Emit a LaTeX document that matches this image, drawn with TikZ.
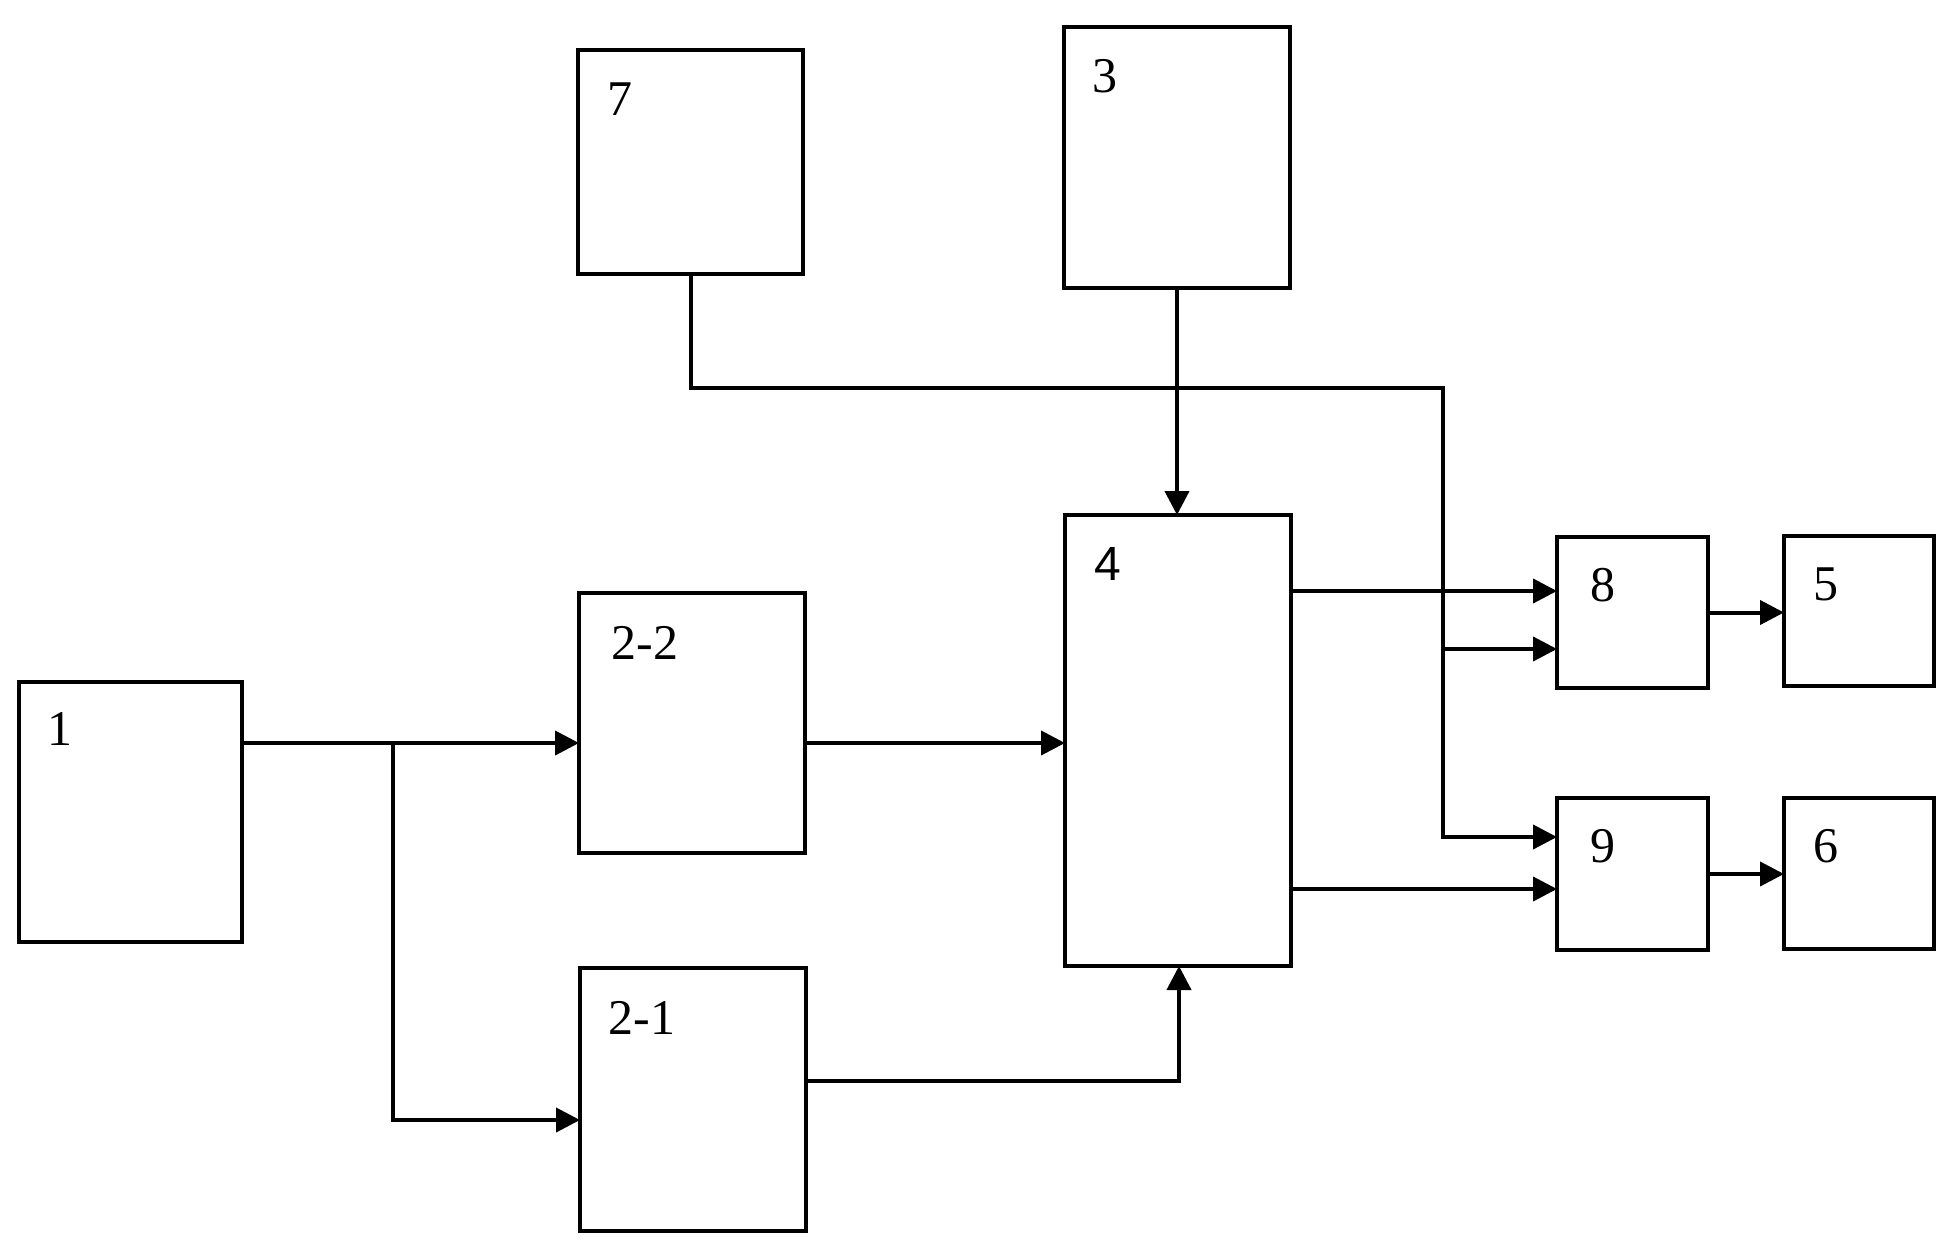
\documentclass[tikz,border=0pt]{standalone}
\usepackage{fontspec}
\setmainfont{Liberation Serif}
\newfontfamily\sansf{Liberation Sans}
\usetikzlibrary{arrows.meta}
\begin{document}
\begin{tikzpicture}[x=1pt,y=-1pt,
  box/.style={draw, line width=4pt, inner sep=0pt, outer sep=0pt, anchor=north west, line join=miter},
  lab/.style={font=\fontsize{50}{50}\selectfont, inner sep=0pt},
  conn/.style={line width=4pt, line join=miter},
  arr/.style={conn, -{Triangle[length=24pt,width=24pt]}}]
\useasboundingbox (0,0) rectangle (1948,1260);
% boxes
\node[box, minimum width=223pt, minimum height=260pt] (b1) at (19,682) {};
\node[box, minimum width=225pt, minimum height=224pt] (b7) at (578,50) {};
\node[box, minimum width=226pt, minimum height=261pt] (b3) at (1064,27) {};
\node[box, minimum width=226pt, minimum height=260pt] (b22) at (579,593) {};
\node[box, minimum width=226pt, minimum height=263pt] (b21) at (580,968) {};
\node[box, minimum width=226pt, minimum height=451pt] (b4) at (1065,515) {};
\node[box, minimum width=151pt, minimum height=151pt] (b8) at (1557,537) {};
\node[box, minimum width=150pt, minimum height=150pt] (b5) at (1784,536) {};
\node[box, minimum width=151pt, minimum height=152pt] (b9) at (1557,798) {};
\node[box, minimum width=150pt, minimum height=151pt] (b6) at (1784,798) {};
% labels
\node[lab] (t1) at (60,729) {1};
\node[lab] (t7) at (620,99) {7};
\node[lab] (t3) at (1105,76) {3};
\node[lab] (t22) at (645,643) {2-2};
\node[lab] (t21) at (642,1018) {2-1};
\node[lab, font=\sansf\fontsize{48}{48}\selectfont] (t4) at (1108,564) {4};
\node[lab] (t8) at (1603,585) {8};
\node[lab] (t5) at (1826,584) {5};
\node[lab] (t9) at (1603,846) {9};
\node[lab] (t6) at (1826,846) {6};
% junction coordinates
\coordinate (j1) at (393,743);
\coordinate (j2) at (393,1120);
\coordinate (j3) at (1179,1081);
\coordinate (k1) at (691,388);
\coordinate (k2) at (1443,388);
\coordinate (k3) at (1443,837);
\coordinate (k4) at (1443,649);
\coordinate (m1) at (0,591);
\coordinate (m2) at (0,889);
% connectors
\draw[arr] (b1.east |- j1) -- (b22.west |- j1);
\draw[arr] (j1) -- (j2) -- (b21.west |- j2);
\draw[arr] (b22.east |- j1) -- (b4.west |- j1);
\draw[arr] (b21.east |- j3) -- (j3) -- (j3 |- b4.south);
\draw[arr] (b3.south) -- (b3.south |- b4.north);
\draw[arr] (b7.south -| k1) -- (k1) -- (k2) -- (k3) -- (b9.west |- k3);
\draw[arr] (k4) -- (b8.west |- k4);
\draw[arr] (b4.east |- m1) -- (b8.west |- m1);
\draw[arr] (b4.east |- m2) -- (b9.west |- m2);
\draw[arr] (b8.east) -- (b5.west |- b8.east);
\draw[arr] (b9.east) -- (b6.west |- b9.east);
\end{tikzpicture}
\end{document}
